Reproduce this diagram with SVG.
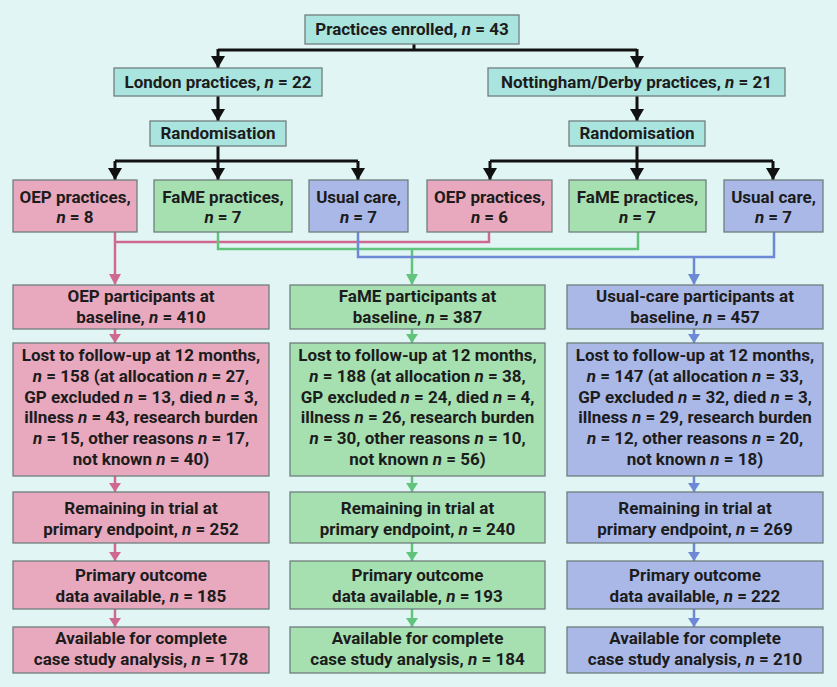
<svg xmlns="http://www.w3.org/2000/svg" width="837" height="687" viewBox="0 0 837 687">
<defs>
<style>
.bg{fill:#e1f6f4}
.box{stroke:#6f7e7e;stroke-width:1.3}
.teal{fill:#a9e4df}
.pink{fill:#e8a8bd}
.green{fill:#a6e0b1}
.blue{fill:#aab8e8}
text{font-family:Roboto,"Liberation Sans",sans-serif;font-weight:bold;font-size:17px;fill:#1c1c1c;text-anchor:middle}
.i{font-style:italic}
.k{fill:none;stroke:#111;stroke-width:3}
.cp{fill:none;stroke:#d0698f;stroke-width:2.5}
.cg{fill:none;stroke:#62c47c;stroke-width:2.5}
.cb{fill:none;stroke:#6d88d6;stroke-width:2.5}
.hk{fill:#111}
.hp{fill:#d0698f}
.hg{fill:#62c47c}
.hb{fill:#6d88d6}
</style>
</defs>
<rect class="bg" x="0" y="0" width="837" height="687"/>

<g id="connectors">
<path class="k" d="M414 44V50M218 50H637"/>
<path class="k" d="M218 49V68M637 49V68M218 96V121M637 96V121"/>
<path class="k" d="M218 146V161M115 161H358M637 146V161M490 161H773"/>
<path class="k" d="M115 161V180M218 161V180M358 161V180M490 161V180M637 161V180M773 161V180"/>
<path class="cp" d="M115 232V284"/>
<path class="cp" d="M489 232V242H115"/>
<path class="cg" d="M218 232V249H638V232"/>
<path class="cg" d="M412 249V284"/>
<path class="cb" d="M358 232V257H774V232"/>
<path class="cb" d="M694 257V284"/>
<path class="cp" d="M115 329V343M115 476V492M115 543V561M115 609V627"/>
<path class="cg" d="M412 329V343M412 476V492M412 543V561M412 609V627"/>
<path class="cb" d="M694 329V343M694 476V492M694 543V561M694 609V627"/>
<g class="hk">
<path d="M211 56H225L218 68Z"/><path d="M630 56H644L637 68Z"/>
<path d="M211 109H225L218 121Z"/><path d="M630 109H644L637 121Z"/>
<path d="M108 168H122L115 180Z"/><path d="M211 168H225L218 180Z"/><path d="M351 168H365L358 180Z"/>
<path d="M483 168H497L490 180Z"/><path d="M630 168H644L637 180Z"/><path d="M766 168H780L773 180Z"/>
</g>
<g class="hp">
<path d="M109 274H121L115 285Z"/><path d="M109 334H121L115 343Z"/><path d="M109 483H121L115 492Z"/><path d="M109 552H121L115 561Z"/><path d="M109 618H121L115 627Z"/>
</g>
<g class="hg">
<path d="M406 274H418L412 285Z"/><path d="M406 334H418L412 343Z"/><path d="M406 483H418L412 492Z"/><path d="M406 552H418L412 561Z"/><path d="M406 618H418L412 627Z"/>
</g>
<g class="hb">
<path d="M688 274H700L694 285Z"/><path d="M688 334H700L694 343Z"/><path d="M688 483H700L694 492Z"/><path d="M688 552H700L694 561Z"/><path d="M688 618H700L694 627Z"/>
</g>
</g>

<g id="enrolled"><rect class="box teal" x="305" y="15" width="214" height="29"/><text x="412" y="35">Practices enrolled, <tspan class="i">n</tspan> = 43</text></g>
<g id="london"><rect class="box teal" x="114" y="68" width="208" height="28"/><text x="218" y="88">London practices, <tspan class="i">n</tspan> = 22</text></g>
<g id="notts"><rect class="box teal" x="488" y="68" width="297" height="28"/><text x="636.5" y="88">Nottingham/Derby practices, <tspan class="i">n</tspan> = 21</text></g>
<g id="rand-l"><rect class="box teal" x="150" y="121" width="136" height="25"/><text x="218" y="139">Randomisation</text></g>
<g id="rand-r"><rect class="box teal" x="569" y="121" width="136" height="25"/><text x="637" y="139">Randomisation</text></g>

<g id="oep-l"><rect class="box pink" x="13" y="180" width="124" height="52"/><text x="75" y="203">OEP practices,</text><text x="75" y="223"><tspan class="i">n</tspan> = 8</text></g>
<g id="fame-l"><rect class="box green" x="154" y="180" width="138" height="52"/><text x="223" y="203">FaME practices,</text><text x="223" y="223"><tspan class="i">n</tspan> = 7</text></g>
<g id="uc-l"><rect class="box blue" x="309" y="180" width="99" height="52"/><text x="358.5" y="203">Usual care,</text><text x="358.5" y="223"><tspan class="i">n</tspan> = 7</text></g>
<g id="oep-r"><rect class="box pink" x="427" y="180" width="125" height="52"/><text x="489.5" y="203">OEP practices,</text><text x="489.5" y="223"><tspan class="i">n</tspan> = 6</text></g>
<g id="fame-r"><rect class="box green" x="569" y="180" width="137" height="52"/><text x="637.5" y="203">FaME practices,</text><text x="637.5" y="223"><tspan class="i">n</tspan> = 7</text></g>
<g id="uc-r"><rect class="box blue" x="724" y="180" width="99" height="52"/><text x="773.5" y="203">Usual care,</text><text x="773.5" y="223"><tspan class="i">n</tspan> = 7</text></g>

<g id="oep-base"><rect class="box pink" x="13" y="285" width="256" height="44"/><text x="141" y="302">OEP participants at</text><text x="141" y="323">baseline, <tspan class="i">n</tspan> = 410</text></g>
<g id="fame-base"><rect class="box green" x="290" y="285" width="255" height="44"/><text x="417.5" y="302">FaME participants at</text><text x="417.5" y="323">baseline, <tspan class="i">n</tspan> = 387</text></g>
<g id="uc-base"><rect class="box blue" x="567" y="285" width="256" height="44"/><text x="695" y="302">Usual-care participants at</text><text x="695" y="323">baseline, <tspan class="i">n</tspan> = 457</text></g>

<g id="oep-lost"><rect class="box pink" x="13" y="343" width="256" height="133"/>
<text x="141" y="361">Lost to follow-up at 12 months,</text>
<text x="141" y="382"><tspan class="i">n</tspan> = 158 (at allocation <tspan class="i">n</tspan> = 27,</text>
<text x="141" y="403">GP excluded <tspan class="i">n</tspan> = 13, died <tspan class="i">n</tspan> = 3,</text>
<text x="141" y="423">illness <tspan class="i">n</tspan> = 43, research burden</text>
<text x="141" y="444"><tspan class="i">n</tspan> = 15, other reasons <tspan class="i">n</tspan> = 17,</text>
<text x="141" y="465">not known <tspan class="i">n</tspan> = 40)</text></g>
<g id="fame-lost"><rect class="box green" x="290" y="343" width="255" height="133"/>
<text x="417.5" y="361">Lost to follow-up at 12 months,</text>
<text x="417.5" y="382"><tspan class="i">n</tspan> = 188 (at allocation <tspan class="i">n</tspan> = 38,</text>
<text x="417.5" y="403">GP excluded <tspan class="i">n</tspan> = 24, died <tspan class="i">n</tspan> = 4,</text>
<text x="417.5" y="423">illness <tspan class="i">n</tspan> = 26, research burden</text>
<text x="417.5" y="444"><tspan class="i">n</tspan> = 30, other reasons <tspan class="i">n</tspan> = 10,</text>
<text x="417.5" y="465">not known <tspan class="i">n</tspan> = 56)</text></g>
<g id="uc-lost"><rect class="box blue" x="567" y="343" width="256" height="133"/>
<text x="695" y="361">Lost to follow-up at 12 months,</text>
<text x="695" y="382"><tspan class="i">n</tspan> = 147 (at allocation <tspan class="i">n</tspan> = 33,</text>
<text x="695" y="403">GP excluded <tspan class="i">n</tspan> = 32, died <tspan class="i">n</tspan> = 3,</text>
<text x="695" y="423">illness <tspan class="i">n</tspan> = 29, research burden</text>
<text x="695" y="444"><tspan class="i">n</tspan> = 12, other reasons <tspan class="i">n</tspan> = 20,</text>
<text x="695" y="465">not known <tspan class="i">n</tspan> = 18)</text></g>

<g id="oep-rem"><rect class="box pink" x="13" y="492" width="256" height="51"/><text x="141" y="514">Remaining in trial at</text><text x="141" y="535">primary endpoint, <tspan class="i">n</tspan> = 252</text></g>
<g id="fame-rem"><rect class="box green" x="290" y="492" width="255" height="51"/><text x="417.5" y="514">Remaining in trial at</text><text x="417.5" y="535">primary endpoint, <tspan class="i">n</tspan> = 240</text></g>
<g id="uc-rem"><rect class="box blue" x="567" y="492" width="256" height="51"/><text x="695" y="514">Remaining in trial at</text><text x="695" y="535">primary endpoint, <tspan class="i">n</tspan> = 269</text></g>

<g id="oep-prim"><rect class="box pink" x="13" y="561" width="256" height="48"/><text x="141" y="581">Primary outcome</text><text x="141" y="602">data available, <tspan class="i">n</tspan> = 185</text></g>
<g id="fame-prim"><rect class="box green" x="290" y="561" width="255" height="48"/><text x="417.5" y="581">Primary outcome</text><text x="417.5" y="602">data available, <tspan class="i">n</tspan> = 193</text></g>
<g id="uc-prim"><rect class="box blue" x="567" y="561" width="256" height="48"/><text x="695" y="581">Primary outcome</text><text x="695" y="602">data available, <tspan class="i">n</tspan> = 222</text></g>

<g id="oep-avail"><rect class="box pink" x="13" y="627" width="256" height="46"/><text x="141" y="644">Available for complete</text><text x="141" y="665">case study analysis, <tspan class="i">n</tspan> = 178</text></g>
<g id="fame-avail"><rect class="box green" x="290" y="627" width="255" height="46"/><text x="417.5" y="644">Available for complete</text><text x="417.5" y="665">case study analysis, <tspan class="i">n</tspan> = 184</text></g>
<g id="uc-avail"><rect class="box blue" x="567" y="627" width="256" height="46"/><text x="695" y="644">Available for complete</text><text x="695" y="665">case study analysis, <tspan class="i">n</tspan> = 210</text></g>
</svg>
